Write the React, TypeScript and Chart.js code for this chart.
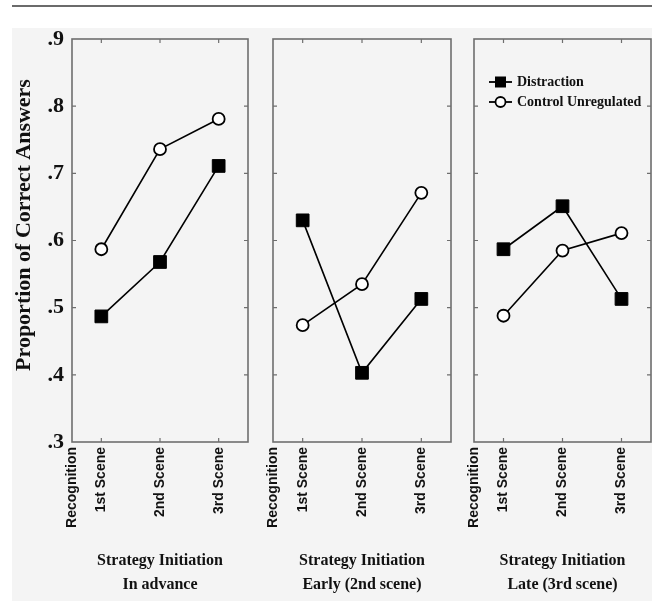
import React, { useEffect, useRef } from 'react';
import { Chart, registerables } from 'chart.js';

Chart.register(...registerables);

// ---------- data ----------
const xPositions = [0, 1, 3, 5];
const xLabels = ['Recognition', '1st Scene', '2nd Scene', '3rd Scene'];
const xMin = 0;
const xMax = 6;
const scenePositions = [1, 3, 5];

const yTickValues = [0.3, 0.4, 0.5, 0.6, 0.7, 0.8, 0.9];
const yTitle = 'Proportion of Correct Answers';
const seriesNames = ['Distraction', 'Control Unregulated'];

const panelTitles = [
  ['Strategy Initiation', 'In advance'],
  ['Strategy Initiation', 'Early (2nd scene)'],
  ['Strategy Initiation', 'Late (3rd scene)'],
];

const distractionAdvance = [0.487, 0.568, 0.711];
const controlAdvance = [0.587, 0.736, 0.781];
const distractionEarly = [0.63, 0.403, 0.513];
const controlEarly = [0.474, 0.535, 0.671];
const distractionLate = [0.587, 0.651, 0.513];
const controlLate = [0.488, 0.585, 0.611];

const panelSeries = [
  [distractionAdvance, controlAdvance],
  [distractionEarly, controlEarly],
  [distractionLate, controlLate],
];

// ---------- layout ----------
const H = 609;
const panels = [
  { left: 0, width: 262, padLeft: 0, padRight: 14, showY: true, legend: false },
  { left: 262, width: 200, padLeft: 11, padRight: 11, showY: false, legend: false },
  { left: 462, width: 190, padLeft: 12, padRight: 1, showY: false, legend: true },
];

const AXIS = '#6e6e6e';
const TEXT = '#111111';
const SERIF = '"Liberation Serif", "Times New Roman", serif';
const SANS = '"Liberation Sans", Arial, sans-serif';

const framePlugin = {
  id: 'frame',
  beforeDatasetsDraw(chart: any) {
    const { ctx, chartArea: a, scales } = chart;
    ctx.save();
    ctx.strokeStyle = AXIS;
    ctx.lineWidth = 1.6;
    ctx.strokeRect(a.left, a.top, a.right - a.left, a.bottom - a.top);
    ctx.lineWidth = 1.2;
    const tl = 4;
    ctx.beginPath();
    scenePositions.forEach((v) => {
      const px = scales.x.getPixelForValue(v);
      ctx.moveTo(px, a.top);
      ctx.lineTo(px, a.top + tl);
      ctx.moveTo(px, a.bottom);
      ctx.lineTo(px, a.bottom - tl);
    });
    yTickValues.slice(1, -1).forEach((v) => {
      const py = scales.y.getPixelForValue(v);
      ctx.moveTo(a.left, py);
      ctx.lineTo(a.left + tl, py);
      ctx.moveTo(a.right, py);
      ctx.lineTo(a.right - tl, py);
    });
    ctx.stroke();
    ctx.restore();
  },
  afterDraw(chart: any) {
    const { ctx, chartArea: a } = chart;
    const opts = chart.options.plugins.frame || {};
    if (opts.yTitle) {
      ctx.save();
      ctx.translate(24, 225);
      ctx.rotate(-Math.PI / 2);
      ctx.font = `bold 22px ${SERIF}`;
      ctx.fillStyle = TEXT;
      ctx.textAlign = 'center';
      ctx.textBaseline = 'middle';
      ctx.fillText(yTitle, 0, 0);
      ctx.restore();
    }
    if (opts.legend) {
      ctx.save();
      const x0 = a.left + 15;
      const x1 = a.left + 38;
      const xm = (x0 + x1) / 2;
      const rows = [a.top + 43, a.top + 63];
      ctx.strokeStyle = '#000';
      ctx.lineWidth = 1.8;
      rows.forEach((y, i) => {
        ctx.beginPath();
        ctx.moveTo(x0, y);
        ctx.lineTo(x1, y);
        ctx.stroke();
        if (i === 0) {
          ctx.fillStyle = '#000';
          ctx.fillRect(xm - 5.5, y - 5.5, 11, 11);
        } else {
          ctx.beginPath();
          ctx.arc(xm, y, 5, 0, Math.PI * 2);
          ctx.fillStyle = '#fff';
          ctx.fill();
          ctx.stroke();
        }
        ctx.fillStyle = TEXT;
        ctx.font = `bold 14px ${SERIF}`;
        ctx.textAlign = 'left';
        ctx.textBaseline = 'middle';
        ctx.fillText(seriesNames[i], a.left + 43, y);
      });
      ctx.restore();
    }
  },
};

function Panel({ index }: { index: number }) {
  const ref = useRef<HTMLCanvasElement>(null);
  const p = panels[index];
  useEffect(() => {
    if (!ref.current) return;
    const [dis, con] = panelSeries[index];
    const chart = new Chart(ref.current, {
      type: 'line',
      data: {
        datasets: [
          {
            label: seriesNames[0],
            data: scenePositions.map((x, i) => ({ x, y: dis[i] })),
            borderColor: '#000',
            borderWidth: 1.6,
            pointStyle: 'rect',
            pointRadius: 9,
            pointBackgroundColor: '#000',
            pointBorderColor: '#000',
            pointBorderWidth: 1,
            tension: 0,
            clip: false,
          },
          {
            label: seriesNames[1],
            data: scenePositions.map((x, i) => ({ x, y: con[i] })),
            borderColor: '#000',
            borderWidth: 1.6,
            pointStyle: 'circle',
            pointRadius: 6,
            pointBackgroundColor: '#ffffff',
            pointBorderColor: '#000',
            pointBorderWidth: 1.8,
            tension: 0,
            clip: false,
          },
        ],
      },
      options: {
        responsive: false,
        animation: false,
        layout: {
          autoPadding: false,
          padding: { top: 39, bottom: 7, left: p.padLeft, right: p.padRight },
        },
        plugins: {
          legend: { display: false },
          tooltip: { enabled: false },
          frame: { yTitle: p.showY, legend: p.legend },
        } as any,
        scales: {
          x: {
            type: 'linear',
            min: xMin,
            max: xMax,
            grid: { display: false, drawTicks: false },
            border: { display: false },
            afterBuildTicks: (s: any) => {
              s.ticks = xPositions.map((v) => ({ value: v }));
            },
            afterFit: (s: any) => {
              s.height = 160;
              s.paddingLeft = 0;
              s.paddingRight = 0;
            },
            ticks: {
              autoSkip: false,
              minRotation: 90,
              maxRotation: 90,
              padding: 5,
              color: TEXT,
              font: { family: SANS, size: 14, weight: 'bold' },
              callback: (v: any) => {
                const i = xPositions.indexOf(Number(v));
                return i >= 0 ? xLabels[i] : '';
              },
            },
            title: {
              display: true,
              text: panelTitles[index],
              color: TEXT,
              font: { family: SERIF, size: 16, weight: 'bold', lineHeight: 1.5 },
              padding: { top: 0, bottom: 5 },
            },
          },
          y: {
            type: 'linear',
            min: 0.3,
            max: 0.9,
            display: p.showY,
            grid: { display: false, drawTicks: false },
            border: { display: false },
            afterBuildTicks: (s: any) => {
              s.ticks = yTickValues.map((v) => ({ value: v }));
            },
            afterFit: (s: any) => {
              s.width = p.showY ? 72 : 0;
            },
            ticks: {
              padding: 8,
              color: TEXT,
              font: { family: SERIF, size: 22, weight: 'bold' },
              callback: (v: any) => '.' + Math.round(Number(v) * 10),
            },
          },
        },
      },
      plugins: [framePlugin],
    });
    return () => chart.destroy();
  }, [index]);
  return (
    <canvas
      ref={ref}
      width={p.width}
      height={H}
      style={{ position: 'absolute', left: p.left, top: 0, width: p.width, height: H }}
    />
  );
}

export default function App() {
  useEffect(() => {
    document.body.style.margin = '0';
  }, []);
  return (
    <div style={{ position: 'relative', width: 652, height: H, background: '#ffffff', overflow: 'hidden' }}>
      <div style={{ position: 'absolute', left: 12, top: 5, width: 640, height: 2, background: '#6b6b6b' }} />
      <div style={{ position: 'absolute', left: 12, top: 28, width: 640, height: 573, background: '#f4f4f4' }} />
      {panels.map((_, i) => (
        <Panel key={i} index={i} />
      ))}
    </div>
  );
}
